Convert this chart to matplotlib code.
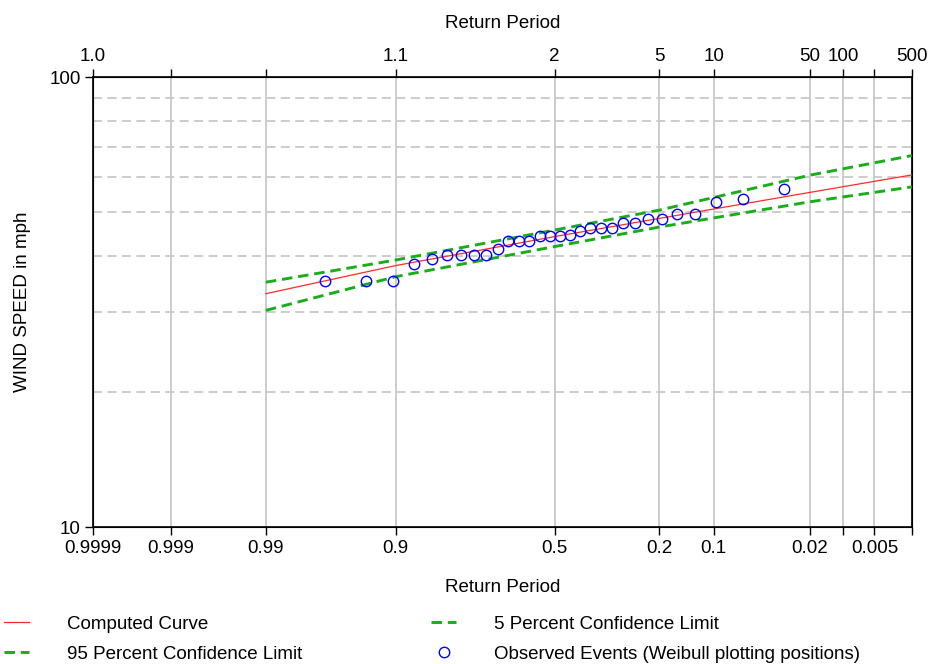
import numpy as np
import matplotlib
matplotlib.use('Agg')
import matplotlib.pyplot as plt
from matplotlib.ticker import FixedLocator, FixedFormatter, NullFormatter
from statistics import NormalDist

plt.rcParams['font.family'] = ['Liberation Sans', 'DejaVu Sans']

# exceedance probability ticks (bottom) and matching return periods (top)
prob_ticks = [0.9999, 0.999, 0.99, 0.9, 0.5, 0.2, 0.1, 0.02, 0.01, 0.005, 0.002]
prob_labels = ['0.9999', '0.999', '0.99', '0.9', '0.5', '0.2', '0.1', '0.02', '', '0.005', '']
rp_labels = ['1.0', '', '', '1.1', '2', '5', '10', '50', '100', '', '500']

# computed frequency curve and confidence limits (wind speed, mph)
curve_p = [0.99, 0.9, 0.5, 0.2, 0.02, 0.002]
curve_val = [33.0, 38.1, 44.2, 48.5, 55.4, 60.6]
upper_val = [35.0, 39.2, 45.7, 50.6, 60.5, 66.9]   # 5 percent limit
lower_val = [30.3, 36.0, 42.0, 46.4, 52.8, 57.0]   # 95 percent limit

# observed events, Weibull plotting positions
obs_p = [0.0323, 0.0645, 0.0968, 0.1290, 0.1613, 0.1935, 0.2258, 0.2581, 0.2903, 0.3226,
         0.3548, 0.3871, 0.4194, 0.4516, 0.4839, 0.5161, 0.5484, 0.5806, 0.6129, 0.6452,
         0.6774, 0.7097, 0.7419, 0.7742, 0.8065, 0.8387, 0.8710, 0.9032, 0.9355, 0.9677]
obs_val = [56.5, 53.6, 52.7, 49.5, 49.5, 48.4, 48.4, 47.5, 47.5, 46.3,
           46.3, 46.3, 45.4, 44.5, 44.4, 44.4, 44.4, 43.3, 43.3, 43.3,
           41.4, 40.2, 40.2, 40.2, 40.2, 39.5, 38.4, 35.3, 35.2, 35.2]

_nd = NormalDist()


def fwd(p):
    p = np.clip(np.asarray(p, float), 1e-9, 1 - 1e-9)
    return np.vectorize(lambda q: _nd.inv_cdf(1 - q), otypes=[float])(p)


def inv(z):
    z = np.clip(np.asarray(z, float), -8, 8)
    return np.vectorize(lambda v: 1 - _nd.cdf(v), otypes=[float])(z)


FS = 13.5
grid_c = '#c8c8c8'
green = '#1aad1a'

fig = plt.figure(figsize=(9.3, 6.64), dpi=100)
ax = fig.add_axes([0.1, 0.2063, 0.8806, 0.6777])
ax.set_xscale('function', functions=(fwd, inv))
ax.set_yscale('log')
ax.set_xlim(0.002, 0.9999)
ax.set_ylim(10, 100)

ax.plot(curve_p, curve_val, color='#ff2a2a', lw=0.9, label='Computed Curve', zorder=3)
ax.plot(curve_p, lower_val, color=green, lw=2.1, ls=(0, (3.6, 2)),
        label='95 Percent Confidence Limit', zorder=3)
ax.plot(curve_p, upper_val, color=green, lw=2.1, ls=(0, (3.6, 2)),
        label='5 Percent Confidence Limit', zorder=3)
ax.plot(obs_p, obs_val, ls='none', marker='o', ms=7.5, mfc='none', mec='#0000ff', mew=1.0,
        label='Observed Events (Weibull plotting positions)', zorder=4)

ax.xaxis.set_major_locator(FixedLocator(prob_ticks))
ax.xaxis.set_major_formatter(FixedFormatter(prob_labels))
ax.xaxis.set_minor_locator(FixedLocator([]))
ax.yaxis.set_major_locator(FixedLocator([10, 100]))
ax.yaxis.set_major_formatter(FixedFormatter(['10', '100']))
ax.yaxis.set_minor_locator(FixedLocator([20, 30, 40, 50, 60, 70, 80, 90]))
ax.yaxis.set_minor_formatter(NullFormatter())
ax.tick_params(axis='y', which='minor', length=0)
ax.tick_params(which='major', direction='out', length=6, width=1, labelsize=FS, pad=3)
ax.set_axisbelow(True)
ax.xaxis.grid(True, which='major', color=grid_c, lw=1.3)
ax.yaxis.grid(True, which='minor', color=grid_c, lw=1.3, ls=(0, (5, 3)))
for s in ax.spines.values():
    s.set_linewidth(1.2)

ax.set_xlabel('Return Period', fontsize=FS, labelpad=16)
ax.set_ylabel('WIND SPEED in mph', fontsize=FS, labelpad=13)

ax2 = ax.twiny()
ax2.set_xscale('function', functions=(fwd, inv))
ax2.set_xlim(ax.get_xlim())
ax2.xaxis.set_major_locator(FixedLocator(prob_ticks))
ax2.xaxis.set_major_formatter(FixedFormatter(rp_labels))
ax2.xaxis.set_minor_locator(FixedLocator([]))
ax2.tick_params(which='major', direction='out', length=6, width=1, labelsize=FS, pad=3)
ax2.set_xlabel('Return Period', fontsize=FS, labelpad=14)

handles, labels = ax.get_legend_handles_labels()
fig.legend(handles, labels, loc='upper left', bbox_to_anchor=(0.004, 0.073), ncol=2,
           frameon=False, fontsize=FS, handlelength=1.35, handletextpad=2.0,
           columnspacing=6.9, labelspacing=0.7, borderpad=0, borderaxespad=0)

fig.savefig('out.png', dpi=100)
